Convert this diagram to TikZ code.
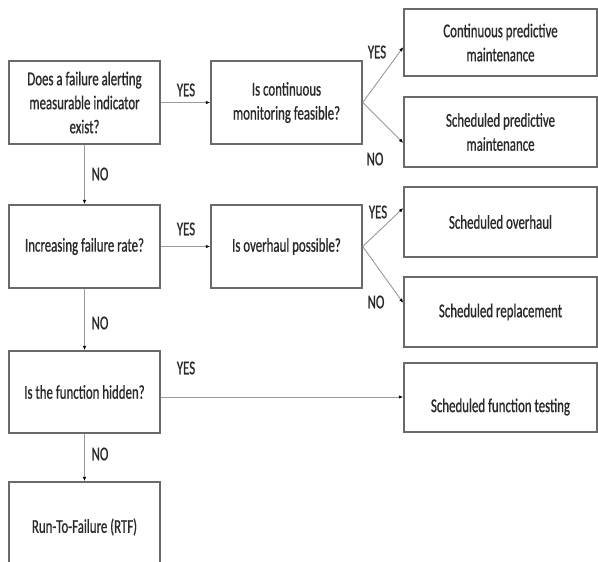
\documentclass[tikz,border=0pt]{standalone}
\usepackage{fontspec}
\setmainfont[FakeStretch=0.66,FakeBold=0.8]{Carlito}
\usetikzlibrary{arrows.meta}
\definecolor{txt}{HTML}{2A2A2A}
\definecolor{boxline}{HTML}{6A6A6A}
\definecolor{conline}{HTML}{9A9A9A}
\tikzset{
  box/.style={draw=boxline, line width=1.4bp, text=txt, align=center, inner sep=0pt,
    font=\fontsize{19.5bp}{24bp}\selectfont},
  qbox/.style={box, minimum width=151bp, minimum height=83bp},
  abox/.style={box, minimum width=193bp, minimum height=69bp},
  conn/.style={draw=conline, line width=0.9bp, -{Latex[length=4.5bp,width=3.5bp,color=black]}},
  lbl/.style={text=txt, inner sep=0pt, font=\fontsize{19.5bp}{24bp}\selectfont}
}
\begin{document}
\begin{tikzpicture}[x=1bp,y=-1bp]
\useasboundingbox (0,0) rectangle (598,562);
\fill[white] (0,0) rectangle (598,562);
\clip (0,0) rectangle (598,562);
% question boxes
\node[qbox] (A) at (84.5,102.5) {Does a failure alerting\\measurable indicator\\exist?};
\node[qbox] (B) at (286.5,102.5) {Is continuous\\monitoring feasible?};
\node[qbox] (H) at (84.5,246.5) {Increasing failure rate?};
\node[qbox] (I) at (286.5,246.5) {Is overhaul possible?};
\node[qbox, minimum height=82bp] (J) at (84.5,392) {Is the function hidden?};
\node[qbox, minimum height=90bp] (K) at (84.5,527) {Run-To-Failure (RTF)};
% answer boxes
\node[abox, minimum height=67bp] (C) at (500.5,42.5) {Continuous predictive\\maintenance};
\node[abox, minimum height=70bp] (D) at (500.5,132) {Scheduled predictive\\maintenance};
\node[abox, minimum height=70bp] (E) at (500.5,222) {Scheduled overhaul};
\node[abox, minimum height=70bp] (F) at (500.5,312) {Scheduled replacement};
\node[abox, minimum height=69bp] (G) at (500.5,397.5) {};
\node[lbl] (Gt) at (500.5,407) {Scheduled function testing};
% connectors
\draw[conn] (A.east) -- (B.west);
\draw[conn] (A.south) -- (H.north);
\draw[conn] (H.east) -- (I.west);
\draw[conn] (H.south) -- (J.north);
\draw[conn] ([yshift=-5bp]J.east) -- ([yshift=-5bp]J.east -| G.west);
\draw[conn] (J.south) -- (K.north);
\draw[conn] (B.east) -- ([yshift=-4.5bp]C.west);
\draw[conn] (B.east) -- ([yshift=-11bp]D.west);
\draw[conn] (I.east) -- ([yshift=14bp]E.west);
\draw[conn] (I.east) -- ([yshift=9bp]F.west);
% labels
\node[lbl] (y1) at (186,90) {YES};
\node[lbl] (n1) at (100,174) {NO};
\node[lbl] (y2) at (186,229) {YES};
\node[lbl] (n2) at (100,323) {NO};
\node[lbl] (y3) at (186,368) {YES};
\node[lbl] (n3) at (100,454) {NO};
\node[lbl] (y4) at (377,52) {YES};
\node[lbl] (n4) at (375,159) {NO};
\node[lbl] (y5) at (378,212) {YES};
\node[lbl] (n5) at (376,302) {NO};
\end{tikzpicture}
\end{document}
